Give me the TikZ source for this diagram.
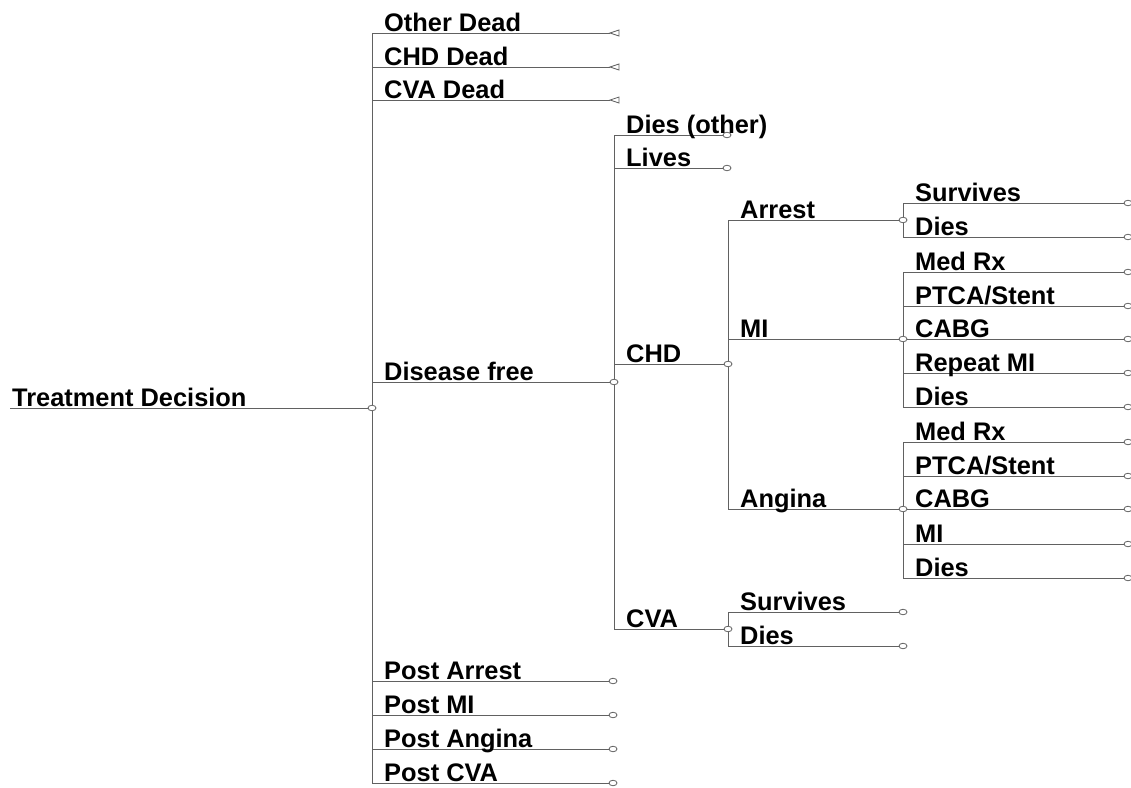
\documentclass[tikz,border=0pt]{standalone}
\usepackage{fontspec}
\setmainfont{Liberation Sans}
\usetikzlibrary{shapes.geometric}
\tikzset{
  x=1pt, y=-1pt,
  edge/.style={draw=black!62, line width=0.9pt},
  chance/.style={ellipse, draw=black!62, fill=white, line width=0.8pt,
    minimum width=8pt, minimum height=5.5pt, inner sep=0pt},
  tri/.style={draw=black!62, fill=white, line width=0.8pt, line join=miter},
  lbl/.style={anchor=base west, inner sep=0pt, text=black,
    font=\fontsize{25.4}{30}\selectfont\bfseries}
}
\begin{document}
\begin{tikzpicture}
\useasboundingbox (0,0) rectangle (1131,787);
% root
\coordinate (start) at (10,408);
\node[chance] (root) at (372,408) {};
\draw[edge] (start) -- (root);
\node[lbl] (tTD) at (12,406) {Treatment Decision};

% level 1: terminal triangles
\foreach \n/\y/\t in {od/33/Other Dead, cd/67/CHD Dead, vd/100/CVA Dead}{
  \coordinate (\n) at (610,\y);
  \draw[edge] (root) |- (\n);
  \draw[tri] (\n) -- ++(9,-3) -- ++(0,6) -- cycle;
  \node[lbl] (l\n) at (384,\y-2) {\t};
}
% level 1: disease free
\node[chance] (df) at (614,382) {};
\draw[edge] (root) |- (df);
\node[lbl] (ldf) at (384,380) {Disease free};
% level 1: post states
\foreach \n/\y/\t in {pa/681/Post Arrest, pm/715/Post MI, pg/749/Post Angina, pc/783/Post CVA}{
  \node[chance] (\n) at (613,\y) {};
  \draw[edge] (root) |- (\n);
  \node[lbl] (l\n) at (384,\y-2) {\t};
}

% level 2 under disease free
\foreach \n/\y/\t in {dother/135/Dies (other), lives/168/Lives}{
  \node[chance] (\n) at (727,\y) {};
  \draw[edge] (df) |- (\n);
  \node[lbl] (l\n) at (626,\y-2) {\t};
}
\node[chance] (chd) at (728,364) {};
\draw[edge] (df) |- (chd);
\node[lbl] (lchd) at (626,362) {CHD};
\node[chance] (cva) at (728,629) {};
\draw[edge] (df) |- (cva);
\node[lbl] (lcva) at (626,627) {CVA};

% level 3 under CHD
\node[chance] (arr) at (903,220) {};
\draw[edge] (chd) |- (arr);
\node[lbl] (larr) at (740,218) {Arrest};
\node[chance] (mi) at (903,339) {};
\draw[edge] (chd) |- (mi);
\node[lbl] (lmi) at (740,337) {MI};
\node[chance] (ang) at (903,509) {};
\draw[edge] (chd) |- (ang);
\node[lbl] (lang) at (740,507) {Angina};

% CVA outcomes
\foreach \n/\y/\t in {cvs/612/Survives, cvd/646/Dies}{
  \node[chance] (\n) at (903,\y) {};
  \draw[edge] (cva) |- (\n);
  \node[lbl] (l\n) at (740,\y-2) {\t};
}

% Arrest outcomes
\foreach \n/\y/\t in {ars/203/Survives, ard/237/Dies}{
  \node[chance] (\n) at (1128,\y) {};
  \draw[edge] (arr) |- (\n);
  \node[lbl] (l\n) at (915,\y-2) {\t};
}

% MI outcomes
\foreach \n/\y/\t in {mi1/272/{Med Rx}, mi2/306/{PTCA/Stent}, mi4/373/{Repeat MI}, mi5/407/{Dies}}{
  \node[chance] (\n) at (1128,\y) {};
  \draw[edge] (mi) |- (\n);
  \node[lbl] (l\n) at (915,\y-2) {\t};
}
\node[chance] (mi3) at (1128,339) {};
\draw[edge] (mi) -- (mi3);
\node[lbl] (lmi3) at (915,337) {CABG};

% Angina outcomes
\foreach \n/\y/\t in {an1/442/{Med Rx}, an2/476/{PTCA/Stent}, an4/544/{MI}, an5/578/{Dies}}{
  \node[chance] (\n) at (1128,\y) {};
  \draw[edge] (ang) |- (\n);
  \node[lbl] (l\n) at (915,\y-2) {\t};
}
\node[chance] (an3) at (1128,509) {};
\draw[edge] (ang) -- (an3);
\node[lbl] (lan3) at (915,507) {CABG};
\end{tikzpicture}
\end{document}
